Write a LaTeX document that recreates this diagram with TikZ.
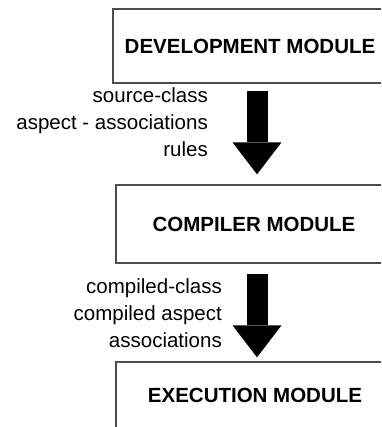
\documentclass[tikz,border=0pt]{standalone}
\usepackage{fontspec}
\setmainfont{Liberation Sans}
\usetikzlibrary{arrows.meta,calc}
\tikzset{
  module/.style={draw=black!70, line width=1.3pt, fill=white, minimum height=75pt,
    font=\fontsize{20.5}{24}\selectfont\bfseries, inner sep=0pt},
  flowlabel/.style={anchor=east, align=right, inner sep=0pt,
    font=\fontsize{20.5}{27}\selectfont},
  bigarrow/.style={line width=21pt, black,
    -{Triangle[width=49pt,length=32pt,line width=0pt]}}
}
\begin{document}
\begin{tikzpicture}[x=1pt,y=-1pt]
\useasboundingbox (0,0) rectangle (381,427);
\clip (0,0) rectangle (381,427);
\fill[white] (0,0) rectangle (381,427);

\node[module, minimum width=274pt, minimum height=74pt] (dev) at (250,46) {DEVELOPMENT MODULE};
\node[module, minimum width=276pt, minimum height=78pt] (comp) at (254,224) {COMPILER MODULE};
\node[module, minimum width=278pt, minimum height=78pt] (exec) at (255,401) {};
\node[font=\fontsize{20.5}{24}\selectfont\bfseries, inner sep=0pt] (exectext) at (255,395) {EXECUTION MODULE};

\node[flowlabel] (lab1) at (208,122) {source-class\\aspect - associations\\rules};
\node[flowlabel] (lab2) at (222,313) {compiled-class\\compiled aspect\\associations};

\draw[bigarrow] ([xshift=7pt,yshift=-7pt]dev.south) -- ([xshift=3pt,yshift=10pt]comp.north);
\draw[bigarrow] ([xshift=3pt,yshift=-10pt]comp.south) -- ([xshift=2pt,yshift=4pt]exec.north);
\end{tikzpicture}
\end{document}
